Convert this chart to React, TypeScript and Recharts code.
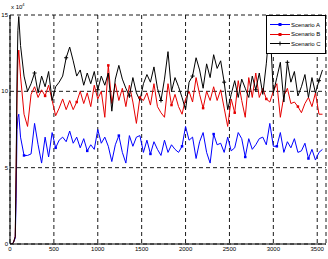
import React from 'react';
import { LineChart, Line, XAxis, YAxis, CartesianGrid, Legend } from 'recharts';

const xs = [0, 20, 40, 60, 70, 80, 90, 100,
  120, 160, 200, 240, 280, 320, 360, 400, 440, 480,
  520, 560, 600, 640, 680, 720, 760, 800, 840, 880,
  920, 960, 1000, 1040, 1080, 1120, 1160, 1200, 1240, 1280,
  1320, 1360, 1400, 1440, 1480, 1520, 1560, 1600, 1640, 1680,
  1720, 1760, 1800, 1840, 1880, 1920, 1960, 2000, 2040, 2080,
  2120, 2160, 2200, 2240, 2280, 2320, 2360, 2400, 2440, 2480,
  2520, 2560, 2600, 2640, 2680, 2720, 2760, 2800, 2840, 2880,
  2920, 2960, 3000, 3040, 3080, 3120, 3160, 3200, 3240, 3280,
  3320, 3360, 3400, 3440, 3480, 3520, 3560];

const scenarioA = [0, 0, 0.1, 0.4, 3.0, 7.5, 8.3, 8.5,
  7.0, 5.8, 5.8, 5.9, 7.9, 6.5, 5.3, 7.0, 5.7, 7.3,
  6.3, 6.8, 7.0, 6.7, 7.4, 6.6, 7.0, 6.3, 6.9, 6.1,
  6.5, 6.2, 7.5, 6.6, 7.0, 6.4, 5.4, 6.5, 7.1, 6.0,
  5.3, 7.1, 6.4, 7.0, 7.1, 6.0, 6.8, 5.9, 6.7, 6.2,
  5.8, 6.8, 6.0, 6.5, 6.2, 6.0, 6.4, 7.7, 6.8, 7.0,
  5.6, 6.7, 7.3, 6.0, 5.3, 7.2, 6.5, 6.6, 6.0, 7.0,
  6.1, 6.3, 7.3, 6.9, 5.7, 6.9, 6.2, 6.5, 6.9, 7.0,
  6.5, 7.9, 6.4, 6.4, 7.3, 6.0, 6.7, 6.3, 6.9, 6.0,
  6.1, 6.6, 5.6, 6.2, 5.5, 6.0, 6.2];

const scenarioB = [0, 0, 0.1, 0.5, 5.0, 9.5, 12.0, 12.7,
  11.0, 8.5, 7.7, 9.8, 10.3, 9.6, 10.1, 9.7, 10.4, 9.4,
  8.4, 8.9, 9.5, 8.8, 9.4, 8.8, 9.3, 10.0, 9.2, 9.9,
  9.0, 10.4, 9.5, 10.0, 8.3, 11.7, 9.2, 10.5, 9.4, 10.2,
  9.0, 10.4, 9.3, 7.9, 9.6, 9.4, 9.9, 9.1, 10.5, 9.0,
  8.6, 8.3, 10.5, 9.1, 9.8, 9.0, 8.5, 9.5, 10.0, 9.3,
  10.9, 9.8, 8.9, 10.0, 9.4, 10.3, 9.4, 10.1, 8.9, 7.7,
  9.5, 8.6, 10.7, 9.4, 8.3, 10.9, 9.6, 11.2, 9.6, 10.2,
  9.5, 9.3, 10.0, 10.5, 8.3, 9.7, 10.2, 9.2, 9.3, 9.0,
  8.6, 9.2, 9.6, 9.0, 9.9, 8.5, 8.5];

const scenarioC = [0, 0, 0.1, 0.5, 5.0, 11.0, 14.0, 14.9,
  13.0, 11.0, 10.0, 10.5, 11.2, 9.9, 11.0, 10.3, 11.3, 9.4,
  10.3, 10.6, 11.0, 12.2, 12.9, 12.0, 11.0, 11.4, 10.4, 11.2,
  10.5, 11.3, 10.1, 11.0, 10.4, 11.2, 8.7, 10.8, 11.7, 10.8,
  10.2, 9.7, 10.9, 9.9, 9.4, 10.5, 11.1, 10.6, 11.6, 10.2,
  9.4, 10.8, 12.6, 10.0, 10.9, 10.3, 9.6, 8.8, 10.6, 11.0,
  12.2, 11.4, 10.2, 11.8, 10.9, 12.4, 11.5, 12.0, 10.6, 8.8,
  9.8, 10.7, 9.6, 10.8, 10.2, 9.6, 11.0, 10.1, 11.2, 9.8,
  11.8, 14.5, 9.9, 10.9, 11.9, 9.3, 11.9, 10.6, 11.3, 9.7,
  10.3, 11.1, 9.6, 10.9, 9.9, 10.7, 11.4];

const xTicks = [0, 500, 1000, 1500, 2000, 2500, 3000, 3500];
const yTicks = [0, 5, 10, 15];

const seriesNames = ['Scenario A', 'Scenario B', 'Scenario C'];
const seriesColors = ['#0000ff', '#e60000', '#000000'];
const seriesMarkers = ['square', 'square', 'plus'];

const data = xs.map((x, i) => ({ x, a: scenarioA[i], b: scenarioB[i], c: scenarioC[i] }));

const font = '"Liberation Sans", Arial, sans-serif';

const makeDot = (color: string, kind: string, offset: number) => (props: any) => {
  const { cx, cy, index } = props;
  if (cx == null || cy == null || index < 8 || (index + offset) % 9 !== 0) return <g key={index} />;
  if (kind === 'plus') {
    return (
      <g key={index}>
        <line x1={cx - 2} x2={cx + 2} y1={cy} y2={cy} stroke={color} strokeWidth={1} />
        <line x1={cx} x2={cx} y1={cy - 2} y2={cy + 2} stroke={color} strokeWidth={1} />
      </g>
    );
  }
  return <rect key={index} x={cx - 1.25} y={cy - 1.25} width={2.5} height={2.5} fill={color} />;
};

const MarkerIcon = ({ color, kind }: { color: string; kind: string }) => (
  <svg width={20} height={5} style={{ display: 'block' }}>
    <line x1={0} x2={20} y1={2.5} y2={2.5} stroke={color} strokeWidth={1} />
    {kind === 'plus' ? (
      <g>
        <line x1={8} x2={12} y1={2.5} y2={2.5} stroke={color} />
        <line x1={10} x2={10} y1={0.5} y2={4.5} stroke={color} />
      </g>
    ) : (
      <rect x={8.5} y={1} width={3} height={3} fill={color} />
    )}
  </svg>
);

const LegendBox = () => (
  <div style={{ width: 58, height: 33, border: '1px solid #000', background: '#fff', fontFamily: font, fontSize: 6, paddingTop: 4, boxSizing: 'content-box' }}>
    {seriesNames.map((n, i) => (
      <div key={n} style={{ display: 'flex', alignItems: 'center', height: 9.5, marginLeft: 3 }}>
        <MarkerIcon color={seriesColors[i]} kind={seriesMarkers[i]} />
        <span style={{ marginLeft: 1, lineHeight: '6px' }}>{n}</span>
      </div>
    ))}
  </div>
);

export default function App() {
  const keys = ['a', 'b', 'c'];
  return (
    <div style={{ position: 'absolute', left: 0, top: 0, width: 328, height: 259, background: '#fff' }}>
      <LineChart width={328} height={259} data={data} margin={{ top: 15, right: 2, bottom: 0, left: 0 }}>
        <CartesianGrid stroke="#000" strokeDasharray="4 3" strokeWidth={0.9} />
        <XAxis dataKey="x" type="number" domain={[0, 3600]} ticks={xTicks} height={15}
          tickSize={0} tickMargin={3} axisLine={{ stroke: '#000' }} tickLine={false}
          tick={{ fontSize: 6, fill: '#000', fontFamily: font }} allowDataOverflow />
        <XAxis xAxisId="top" orientation="top" dataKey="x" type="number" domain={[0, 3600]} height={0}
          tick={false} tickLine={false} axisLine={{ stroke: '#000' }} />
        <YAxis type="number" domain={[0, 15]} ticks={yTicks} width={10} tickSize={0} tickMargin={2}
          axisLine={{ stroke: '#000' }} tickLine={false} interval={0}
          tick={{ fontSize: 6, fill: '#000', fontFamily: font }} allowDataOverflow />
        <YAxis yAxisId="right" orientation="right" domain={[0, 15]} width={0}
          tick={false} tickLine={false} axisLine={{ stroke: '#000' }} />
        {keys.map((k, i) => (
          <Line key={k} dataKey={k} name={seriesNames[i]} type="linear" stroke={seriesColors[i]} strokeWidth={1}
            dot={makeDot(seriesColors[i], seriesMarkers[i], i * 3)} activeDot={false} isAnimationActive={false} />
        ))}
        <Legend layout="vertical" align="center" verticalAlign="middle" content={() => <LegendBox />}
          wrapperStyle={{ position: 'absolute', left: 266, top: 15, width: 60, height: 37 }} />
      </LineChart>
      <div style={{ position: 'absolute', left: 11, top: 4, fontFamily: font, fontSize: 6, lineHeight: '6px' }}>
        x 10<sup style={{ fontSize: 4, verticalAlign: 'top', position: 'relative', top: -2 }}>4</sup>
      </div>
    </div>
  );
}
